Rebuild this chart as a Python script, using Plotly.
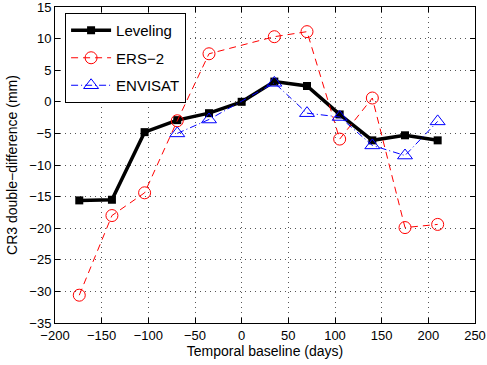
import plotly.graph_objects as go

days = [-174, -139, -104, -69, -35, 0, 35, 70, 105, 140, 175, 210]
leveling = [-15.6, -15.5, -4.8, -2.9, -1.8, 0.0, 3.2, 2.5, -2.0, -6.1, -5.3, -6.1]
ers2_days = [-174, -139, -104, -69, -35, 35, 70, 105, 140, 175, 210]
ers2 = [-30.6, -18.0, -14.4, -3.0, 7.6, 10.3, 11.1, -5.9, 0.6, -19.9, -19.4]
envisat_days = [-69, -35, 35, 70, 105, 140, 175, 210]
envisat = [-5.0, -2.8, 3.0, -1.8, -2.4, -6.9, -8.5, -3.1]

xticks = [-200, -150, -100, -50, 0, 50, 100, 150, 200, 250]
yticks = [-35, -30, -25, -20, -15, -10, -5, 0, 5, 10, 15]

font = "Liberation Sans, Arial, sans-serif"

fig = go.Figure()
fig.add_trace(go.Scatter(
    x=days, y=leveling, name="Leveling", mode="lines+markers", legendgroup="a",
    line=dict(color="black", width=3.5),
    marker=dict(symbol="square", size=8, color="black"),
))
fig.add_trace(go.Scatter(
    x=ers2_days, y=ers2, name="ERS\u22122", mode="lines+markers", legendgroup="b",
    line=dict(color="#ff0000", width=1, dash="7px,5px"),
    marker=dict(symbol="circle-open", size=12, color="#ff0000", line=dict(width=1)),
))
fig.add_trace(go.Scatter(
    x=envisat_days, y=envisat, name="ENVISAT", mode="lines+markers", legendgroup="c",
    line=dict(color="#0000ff", width=1, dash="7px,3px,1px,3px"),
    marker=dict(symbol="triangle-up-open", size=13, color="#0000ff", line=dict(width=1)),
))

axis_common = dict(
    showline=True, linecolor="black", linewidth=1, mirror="allticks",
    ticks="inside", ticklen=5, tickcolor="black", automargin=False,
    ticklabeloverflow="allow",
    showgrid=True, gridcolor="#555555", griddash="1px,4px", gridwidth=1,
    zeroline=False, tickfont=dict(family=font, size=13, color="black"),
)

fig.update_layout(
    width=487, height=365,
    margin=dict(l=55, r=12, t=7, b=42),
    paper_bgcolor="white", plot_bgcolor="white",
    font=dict(family=font, size=13, color="black"),
    xaxis=dict(range=[-200, 250], tickvals=xticks,
               title=dict(text="Temporal baseline (days)", standoff=3,
                          font=dict(family=font, size=14)),
               **axis_common),
    yaxis=dict(range=[-35, 15], tickvals=yticks,
               title=dict(text="CR3 double\u2212difference (mm)", standoff=8,
                          font=dict(family=font, size=14)),
               **axis_common),
    legend=dict(x=0.024, y=0.981, xanchor="left", yanchor="top",
                bgcolor="white", bordercolor="black", borderwidth=1,
                font=dict(family=font, size=15), tracegroupgap=5,
                itemwidth=40),
    showlegend=True,
)

fig.write_html("out.html")
